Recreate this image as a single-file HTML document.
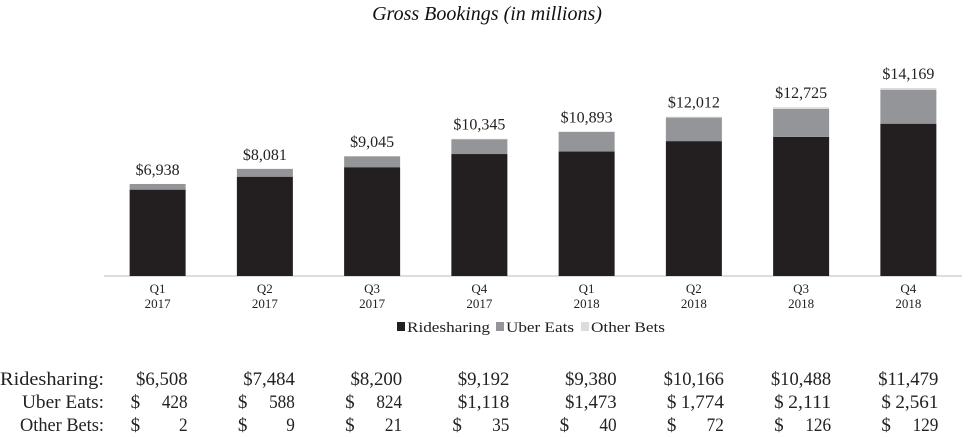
<!DOCTYPE html>
<html><head><meta charset="utf-8"><style>
body{margin:0;background:#fff;font-family:"Liberation Serif",serif;}
svg{display:block}
</style></head><body>
<svg width="974" height="437" id="c">
<text x="487" y="20" text-anchor="middle" font-style="italic" font-size="20" fill="#111">Gross Bookings (in millions)</text>
<line x1="104" y1="276" x2="962" y2="276" stroke="#bbb" stroke-width="1"/>
<g id="bars"></g>
<g font-size="15" fill="#222">
<rect x="397" y="322" width="8" height="9" fill="#231f20"/>
<text x="407" y="332" textLength="83" lengthAdjust="spacingAndGlyphs">Ridesharing</text>
<rect x="496" y="322" width="8" height="9" fill="#939598"/>
<text x="506" y="332" textLength="68" lengthAdjust="spacingAndGlyphs">Uber Eats</text>
<rect x="581" y="322" width="8" height="9" fill="#dcdcdc"/>
<text x="591" y="332" textLength="74" lengthAdjust="spacingAndGlyphs">Other Bets</text>
</g>
<g id="table" font-size="19" fill="#222"></g>
</svg>
<script>
const quarters=["Q1","Q2","Q3","Q4","Q1","Q2","Q3","Q4"];
const years=["2017","2017","2017","2017","2018","2018","2018","2018"];
const ridesharing=[6508,7484,8200,9192,9380,10166,10488,11479];
const uberEats=[428,588,824,1118,1473,1774,2111,2561];
const otherBets=[2,9,21,35,40,72,126,129];
const totals=[6938,8081,9045,10345,10893,12012,12725,14169];
const NS="http://www.w3.org/2000/svg";
const x0=104,slot=107.25,bw=56,base=276,k=188/14169;
const xc=i=>x0+slot*(i+0.5);
const y=v=>base-v*k;
const fmt=v=>v.toLocaleString("en-US");
function mk(tag,attrs,parent,txt){const e=document.createElementNS(NS,tag);for(const a in attrs)e.setAttribute(a,attrs[a]);if(txt!=null)e.textContent=txt;parent.appendChild(e);return e;}
const g=document.getElementById("bars"),t=document.getElementById("table");
quarters.forEach((q,i)=>{
  const L=xc(i)-bw/2;
  const segs=[[ridesharing[i],"#231f20","ridesharing"],[uberEats[i],"#939598","uber-eats"],[otherBets[i],"#dcdcdc","other-bets"]];
  let acc=0;
  segs.forEach(s=>{
    const r=mk("rect",{x:L,y:y(acc+s[0]),width:bw,height:s[0]*k,fill:s[1]},g);
    
    
    acc+=s[0];
  });
  const tl=mk("text",{x:xc(i),y:y(totals[i])-9,"text-anchor":"middle","font-size":"16",fill:"#222"},g,"$"+fmt(totals[i]));
  
  
  const xl=mk("text",{x:xc(i),y:293,"text-anchor":"middle","font-size":"13",fill:"#222"},g,q);
  
  
  const yl=mk("text",{x:xc(i),y:308,"text-anchor":"middle","font-size":"13",fill:"#222"},g,years[i]);
  
  
});
const rows=[["Ridesharing:",ridesharing,385],["Uber Eats:",uberEats,408],["Other Bets:",otherBets,431]];
const labW=[104,82,84];
rows.forEach((r,ri)=>{
  const lab=mk("text",{x:104,y:r[2],"text-anchor":"end",textLength:labW[ri],lengthAdjust:"spacingAndGlyphs"},t,r[0]);
  
  
  r[1].forEach((v,i)=>{
    const L=xc(i)-bw/2+1,R=xc(i)+bw/2+2;
    const split = ri>0 && (v<1000 || i>=5);
    if(split){
      const d=mk("text",{x:L,y:r[2]},t,"$");
      
      
    }
    const s=(split?"":"$")+fmt(v);
    const c=mk("text",{x:R,y:r[2],"text-anchor":"end",textLength:s.length*8.6,lengthAdjust:"spacingAndGlyphs"},t,s);
    
    
  });
});
</script>
</body></html>
